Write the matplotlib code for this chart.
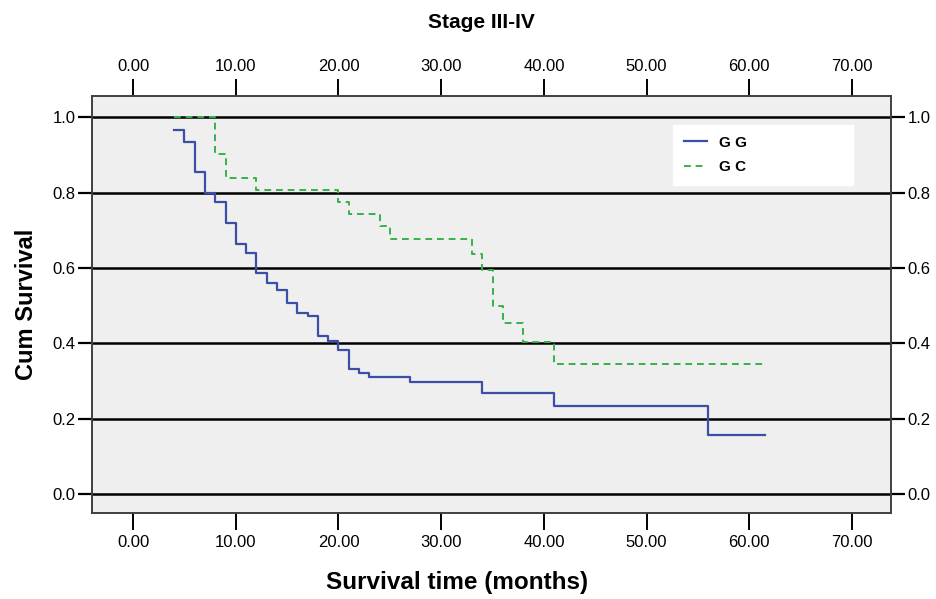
import matplotlib
matplotlib.use("Agg")
import matplotlib.pyplot as plt
import matplotlib.ticker

# Kaplan-Meier steps (months, cumulative survival)
gg_time = [4, 5, 6, 7, 8, 9, 10, 11, 12, 13, 14, 15, 16, 17, 18, 19, 20,
           21, 22, 23, 27, 34, 41, 56, 61.5]
gg_surv = [0.967, 0.933, 0.854, 0.800, 0.775, 0.720, 0.664, 0.640, 0.587,
           0.561, 0.542, 0.507, 0.480, 0.472, 0.419, 0.406, 0.382, 0.332,
           0.321, 0.310, 0.297, 0.268, 0.233, 0.156, 0.156]

gc_time = [4, 8, 9, 12, 20, 21, 24, 25, 33, 34, 35, 36, 38, 41, 61.5]
gc_surv = [1.0, 0.903, 0.839, 0.806, 0.774, 0.742, 0.710, 0.677, 0.636,
           0.594, 0.500, 0.453, 0.403, 0.345, 0.345]

x_ticks = [0, 10, 20, 30, 40, 50, 60, 70]
y_ticks = [0.0, 0.2, 0.4, 0.6, 0.8, 1.0]

plt.rcParams["font.family"] = ["Liberation Sans", "DejaVu Sans"]

fig = plt.figure(figsize=(9.37, 5.99), dpi=100)
W, H = 937.0, 599.0
ax = fig.add_axes([92 / W, 1 - 513 / H, (891 - 92) / W, (513 - 96) / H])
ax.set_facecolor("#efefef")

ax.plot(gg_time, gg_surv, drawstyle="steps-post", color="#3c4ea6",
        lw=1.6, label="G G", zorder=3)
ax.plot(gc_time, gc_surv, drawstyle="steps-post", color="#35b24a",
        lw=1.4, ls=(0, (3.5, 2.5)), label="G C", zorder=3)

ax.set_xlim(-4.0, 73.8)
ax.set_ylim(-0.05, 1.056)
ax.set_xticks(x_ticks)
ax.set_yticks(y_ticks)
ax.xaxis.set_major_formatter(matplotlib.ticker.FormatStrFormatter("%.2f"))
ax.yaxis.set_major_formatter(matplotlib.ticker.FormatStrFormatter("%.1f"))
ax.yaxis.grid(True, color="black", lw=1.8, zorder=1)

ax.tick_params(axis="x", top=True, labeltop=True, direction="out",
               length=12, width=1.4, pad=4, labelsize=12)
ax.tick_params(axis="y", right=True, labelright=True, direction="out",
               length=10, width=1.6, pad=2, labelsize=12)

for s in ax.spines.values():
    s.set_color("#404040")
    s.set_linewidth(1.4)

ax.set_ylabel("Cum Survival", fontsize=17, fontweight="bold", labelpad=10)
fig.text(457 / W, 1 - 582 / H, "Survival time (months)", ha="center",
         va="center", fontsize=17.5, fontweight="bold")
fig.text(481 / W, 1 - 22 / H, "Stage III-IV", ha="center", va="center",
         fontsize=15, fontweight="bold")

leg = ax.legend(loc="upper left", mode="expand",
                bbox_to_anchor=(673 / W, 1 - 185 / H, 180 / W, 60 / H),
                bbox_transform=fig.transFigure, frameon=True,
                fancybox=False, handlelength=1.5, labelspacing=0.7,
                borderpad=0.7, borderaxespad=0,
                prop={"weight": "bold", "size": 11})
leg.get_frame().set_facecolor("white")
leg.get_frame().set_edgecolor("white")
leg.get_frame().set_alpha(1)

fig.savefig("out.png", dpi=100)
